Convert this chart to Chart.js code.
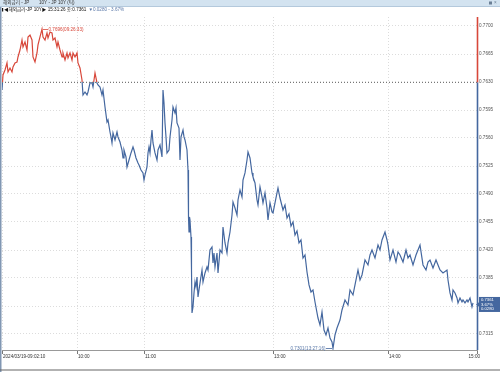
<!DOCTYPE html>
<html>
<head>
<meta charset="utf-8">
<script src="https://cdn.jsdelivr.net/npm/chart.js@4.4.1/dist/chart.umd.min.js"></script>
<style>
  body { margin: 0; background: #fff; }
  #box { width: 500px; height: 372px; }
</style>
</head>
<body>
<div id="box"><canvas id="yieldChart" width="500" height="372"></canvas></div>
<script>
// tick sequence number and yield (JP 10Y, 2024/03/19)
const tickNo = [0,2,6,10,12,16,20,22,26,30,32,36,40,42,46,50,52,56,60,62,66,70,72,76,80,82,86,90,92,96,100,102,106,110,112,116,120,122,126,130,132,136,140,142,146,150,152,156,160,162,166,170,172,176,180,182,186,190,192,196,200,202,206,210,212,216,218,220,222,226,230,232,236,240,242,244,248,250,254,258,262,264,268,272,274,278,282,284,286,290,292,294,296,298,300,302,306,310,312,316,320,322,324,326,328,330,334,336,340,342,346,348,350,354,356,358,362,364,366,370,372,373,374,375,376,378,379,380,382,384,386,388,390,392,396,400,402,406,410,412,416,420,422,424,426,430,432,436,440,442,446,450,452,456,460,462,466,470,472,476,480,482,486,490,492,496,500,502,506,510,512,516,520,522,526,530,532,536,540,542,546,550,552,556,562,566,570,574,578,582,586,590,594,598,602,606,610,614,618,622,626,632,636,640,644,648,652,656,660,662,666,670,676,680,686,692,696,702,706,712,716,720,726,732,736,740,746,752,756,760,766,770,772,776,782,788,792,796,802,808,812,816,822,828,832,836,842,848,852,856,862,868,872,876,882,890,892,896,900,902,906,910,912,916,920,922,926,930,932,936,940,942];
const yields = [0.76200,0.76388,0.76450,0.76538,0.76425,0.76475,0.76425,0.76488,0.76538,0.76550,0.76613,0.76700,0.76825,0.76738,0.76800,0.76700,0.76863,0.76888,0.76825,0.76613,0.76550,0.76663,0.76763,0.76863,0.76960,0.76863,0.76825,0.76913,0.76850,0.76925,0.76913,0.76825,0.76850,0.76738,0.76800,0.76700,0.76613,0.76663,0.76575,0.76663,0.76600,0.76663,0.76575,0.76663,0.76613,0.76663,0.76538,0.76475,0.76325,0.76138,0.76175,0.76138,0.76175,0.76288,0.76288,0.76238,0.76413,0.76288,0.76263,0.76238,0.76138,0.76200,0.75988,0.75800,0.75825,0.75675,0.75613,0.75538,0.75663,0.75575,0.75675,0.75613,0.75550,0.75450,0.75350,0.75450,0.75363,0.75238,0.75325,0.75413,0.75488,0.75450,0.75350,0.75288,0.75263,0.75200,0.75163,0.75075,0.75138,0.75238,0.75413,0.75488,0.75413,0.75575,0.75700,0.75538,0.75413,0.75325,0.75450,0.75513,0.75363,0.76200,0.76038,0.75788,0.75613,0.75413,0.75450,0.75613,0.75825,0.75988,0.75913,0.75975,0.75788,0.75725,0.75325,0.75613,0.75700,0.75613,0.75575,0.75450,0.75200,0.74613,0.74425,0.74613,0.74575,0.74363,0.73950,0.73413,0.73488,0.73663,0.73800,0.73738,0.73863,0.73613,0.73788,0.73950,0.73800,0.73913,0.73988,0.73950,0.74200,0.74238,0.74038,0.74163,0.73988,0.74163,0.73913,0.74200,0.74163,0.74488,0.74288,0.74163,0.74288,0.74425,0.74638,0.74800,0.74725,0.74638,0.74825,0.74950,0.74863,0.75075,0.75163,0.75325,0.75425,0.75350,0.75163,0.75113,0.75038,0.74825,0.74763,0.74988,0.74863,0.74788,0.74913,0.74725,0.74575,0.74788,0.74675,0.74663,0.74788,0.74913,0.74975,0.74850,0.74700,0.74763,0.74600,0.74650,0.74500,0.74550,0.74388,0.74438,0.74288,0.74325,0.74100,0.74138,0.73925,0.73763,0.73675,0.73700,0.73550,0.73350,0.73263,0.73425,0.73200,0.73138,0.73225,0.73100,0.73050,0.72970,0.73138,0.73225,0.73325,0.73450,0.73575,0.73513,0.73700,0.73638,0.73763,0.73950,0.73825,0.73888,0.74075,0.74013,0.74138,0.74200,0.74100,0.74263,0.74200,0.74325,0.74425,0.74325,0.74263,0.74075,0.74200,0.74050,0.74175,0.74138,0.74050,0.74200,0.74100,0.74138,0.74013,0.74138,0.74200,0.74263,0.74013,0.73950,0.74050,0.74075,0.73975,0.74075,0.74013,0.73950,0.73913,0.73950,0.73825,0.73663,0.73575,0.73700,0.73663,0.73600,0.73538,0.73600,0.73550,0.73575,0.73538,0.73575,0.73550,0.73600,0.73488,0.73538];

const timeTickNo = [0, 150, 284, 542, 772, 950];
const timeLabels = ['2024/03/19-09:02:10', '10:00', '11:00', '13:00', '14:00', '15:00'];
const yTicks = [0.7315, 0.7350, 0.7385, 0.7420, 0.7455, 0.7490, 0.7525, 0.7560, 0.7595, 0.7630, 0.7665, 0.7700];
const baseLevel = 0.7630;

const titleText = '해외금리 - JP';
const subTitleText = '10Y - JP 10Y (틱)';
const legendText = '◀해외금리-JP 10Y▶ 15:31:26 종:0.7361';
const legendChange = '▼0.0280 - 3.67%';
const maxLabel = '0.7696(09:26:33)';
const minLabel = '0.7301(13:27:16)';
const lastBox = ['0.7361', '3.67%', '0.0280'];

const RED = '#d8473a';
const BLUE = '#44679f';
const FONT = '"Liberation Sans", "Noto Sans CJK KR", sans-serif';

function splitColor(ctx) {
  const chart = ctx.chart;
  const area = chart.chartArea;
  if (!area) return BLUE;
  const yb = chart.scales.y.getPixelForValue(baseLevel);
  const t = Math.min(1, Math.max(0, (yb - area.top) / (area.bottom - area.top)));
  const g = chart.ctx.createLinearGradient(0, area.top, 0, area.bottom);
  g.addColorStop(0, RED);
  g.addColorStop(t, RED);
  g.addColorStop(t, BLUE);
  g.addColorStop(1, BLUE);
  return g;
}

const frame = {
  id: 'frame',
  beforeDraw(chart) {
    const c = chart.ctx;
    const W = chart.width;
    c.save();
    c.fillStyle = '#fff';
    c.fillRect(0, 0, W, chart.height);
    // title bar
    c.fillStyle = '#d3e3f0';
    c.fillRect(0, 0, W, 6);
    c.fillStyle = '#b4c9dc';
    c.fillRect(0, 6, W, 1);
    c.font = '4.6px ' + FONT;
    c.textBaseline = 'middle';
    c.fillStyle = '#333';
    c.fillText(titleText, 3, 3.2);
    c.fillText(subTitleText, 39, 3.2);
    c.fillStyle = '#6a7f95';
    c.fillRect(489, 1.5, 3, 3);
    c.fillText('×', 494, 3.2);
    // legend line
    c.fillStyle = '#111';
    c.fillRect(2, 8, 1.2, 3.5);
    c.font = '4.6px ' + FONT;
    c.fillText(legendText, 4, 9.8);
    const w = c.measureText(legendText).width;
    c.fillStyle = '#5a78a8';
    c.fillText(legendChange, 4 + w + 2, 9.8);
    c.restore();
  },
  afterDatasetsDraw(chart) {
    const c = chart.ctx;
    const area = chart.chartArea;
    const xs = chart.scales.x, ys = chart.scales.y;
    c.save();
    // base line
    const yb = Math.round(ys.getPixelForValue(baseLevel)) + 0.5;
    c.strokeStyle = '#777';
    c.lineWidth = 1;
    c.setLineDash([1, 2]);
    c.beginPath();
    c.moveTo(area.left, yb);
    c.lineTo(area.right, yb);
    c.stroke();
    c.setLineDash([]);

    // max / min annotations
    let iMax = 0, iMin = 0;
    yields.forEach((v, i) => {
      if (v > yields[iMax]) iMax = i;
      if (v < yields[iMin]) iMin = i;
    });
    c.font = '4.6px ' + FONT;
    c.textBaseline = 'middle';
    const px = xs.getPixelForValue(tickNo[iMax]);
    const py = ys.getPixelForValue(yields[iMax]);
    c.strokeStyle = RED;
    c.fillStyle = RED;
    c.lineWidth = 0.8;
    c.beginPath();
    c.moveTo(px + 1, Math.round(py) + 0.5);
    c.lineTo(px + 6, Math.round(py) + 0.5);
    c.stroke();
    c.fillText(maxLabel, px + 6.5, py + 0.3);
    const qx = xs.getPixelForValue(tickNo[iMin]);
    const qy = ys.getPixelForValue(yields[iMin]);
    c.strokeStyle = BLUE;
    c.fillStyle = '#5a78a8';
    c.beginPath();
    c.moveTo(qx - 1, Math.round(qy) + 0.5);
    c.lineTo(qx - 7, Math.round(qy) + 0.5);
    c.stroke();
    c.textAlign = 'right';
    c.fillText(minLabel, qx - 7.5, qy + 0.3);
    c.textAlign = 'left';

    // right axis line, red above base, blue below
    const ax = area.right + 0.5;
    c.lineWidth = 1.6;
    c.strokeStyle = RED;
    c.beginPath();
    c.moveTo(ax, area.top);
    c.lineTo(ax, yb);
    c.stroke();
    c.strokeStyle = BLUE;
    c.beginPath();
    c.moveTo(ax, yb);
    c.lineTo(ax, area.bottom);
    c.stroke();

    // last price box
    const ly = ys.getPixelForValue(yields[yields.length - 1]) + 1.5;
    c.fillStyle = BLUE;
    c.fillRect(area.right + 2, ly - 7.5, chart.width - area.right - 2, 15);
    c.beginPath();
    c.moveTo(area.right - 1, ly);
    c.lineTo(area.right + 3, ly - 3);
    c.lineTo(area.right + 3, ly + 3);
    c.closePath();
    c.fill();
    c.fillStyle = '#fff';
    c.font = '4.2px ' + FONT;
    lastBox.forEach((s, i) => c.fillText(s, area.right + 4, ly - 4.6 + i * 4.6));

    // x axis labels
    c.fillStyle = '#333';
    c.font = '4.6px ' + FONT;
    timeTickNo.forEach((t, i) => {
      let x = xs.getPixelForValue(t) + 1;
      const w = c.measureText(timeLabels[i]).width;
      if (x + w > area.right) x = area.right - w + 3;
      c.fillText(timeLabels[i], x, area.bottom + 6.5);
    });

    // frame lines
    c.fillStyle = '#8197b3';
    c.fillRect(0, 7, 1.5, chart.height - 7);
    c.fillStyle = '#666';
    c.fillRect(0, chart.height - 2.5, chart.width, 1);
    c.restore();
  }
};

const ctx = document.getElementById('yieldChart').getContext('2d');
new Chart(ctx, {
  type: 'line',
  data: {
    datasets: [{
      data: tickNo.map((t, i) => ({ x: t, y: yields[i] })),
      borderColor: splitColor,
      borderWidth: 1.2,
      pointRadius: 0,
      tension: 0
    }]
  },
  options: {
    responsive: false,
    animation: false,
    events: [],
    layout: { padding: { left: 2, top: 17, right: 0, bottom: 4 } },
    plugins: { legend: { display: false }, tooltip: { enabled: false } },
    scales: {
      x: {
        type: 'linear',
        min: 0,
        max: 950,
        afterBuildTicks: s => { s.ticks = timeTickNo.map(v => ({ value: v })); },
        afterFit: s => { s.height = 18; },
        ticks: { display: false },
        grid: { color: '#dcdcdc', drawTicks: true, tickLength: 4, tickColor: '#777' },
        border: { display: true, color: '#999', dash: [1, 2] }
      },
      y: {
        position: 'right',
        min: 0.7295,
        max: 0.771125,
        afterBuildTicks: s => { s.ticks = yTicks.map(v => ({ value: v })); },
        afterFit: s => { s.width = 23; },
        ticks: {
          padding: 2,
          color: '#555',
          font: { size: 4.6, family: FONT },
          callback: v => v.toFixed(4)
        },
        grid: { color: '#dcdcdc', drawTicks: false },
        border: { display: false, dash: [1, 2] }
      }
    }
  },
  plugins: [frame]
});
</script>
</body>
</html>
